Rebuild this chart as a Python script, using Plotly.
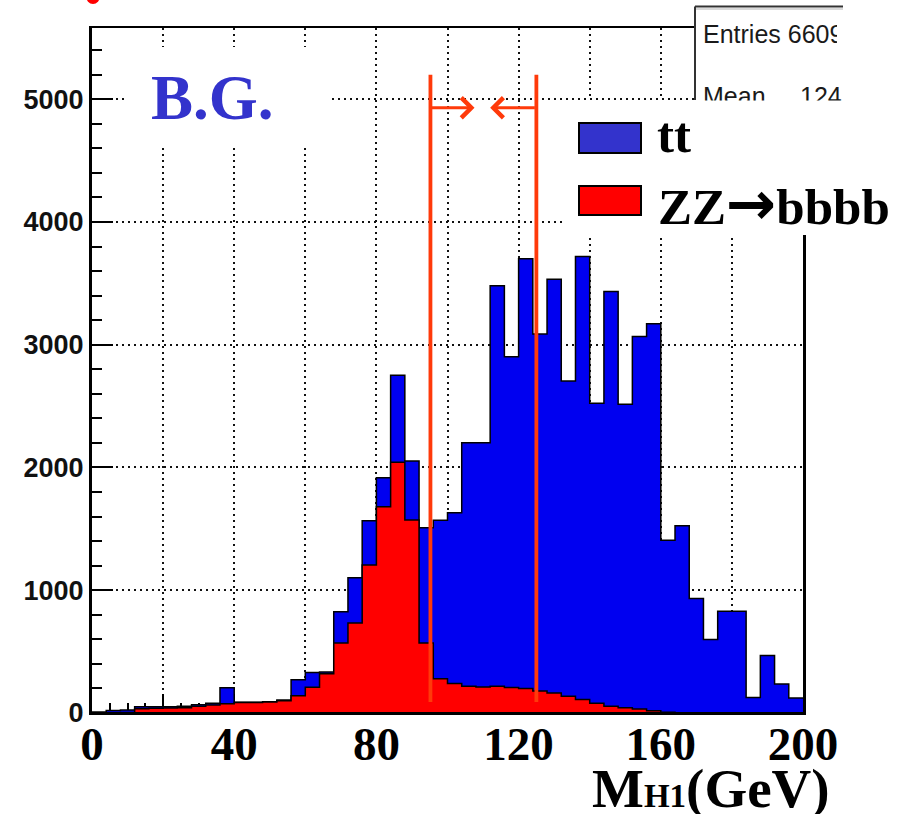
import plotly.graph_objects as go

# ---------------- data ----------------
bin_width = 4
bin_low = list(range(0, 200, bin_width))          # 50 bins, 0..200 GeV

tt = [8, 20, 20, 15, 12, 10, 13, 13, 15, 130,
      2, 2, 2, 5, 130, 120, 15, 253, 367, 361,
      237, 710, 481, 938, 1290, 1391, 1984, 1990, 3262, 2696,
      3500, 2909, 3371, 2569, 3610, 2443, 3378, 2473, 3034, 3151,
      1402, 1522, 933, 598, 829, 829, 127, 468, 237, 123]

zz_bbbb = [0, 0, 5, 35, 38, 40, 42, 55, 65, 75,
           85, 85, 90, 100, 140, 210, 320, 571, 734, 1205,
           1680, 2042, 1572, 571, 280, 240, 218, 212, 218, 207,
           200, 179, 163, 136, 109, 80, 56, 42, 32, 19,
           6, 3, 0, 0, 0, 0, 0, 0, 0, 0]

x_tick_vals = list(range(0, 201, 20))
x_tick_text = [str(v) if v % 40 == 0 else "" for v in x_tick_vals]
y_tick_vals = [0, 1000, 2000, 3000, 4000, 5000]
y_tick_text = ["0", "1000", "2000", "3000", "4000", "5000"]

cut_low, cut_high = 95.2, 125.0
cut_y_bottom, cut_y_top, arrow_y = 90, 5200, 4930
arrow_tip_right, arrow_tip_left = 107.6, 112.0

stats_entries = "6609"
stats_mean = "124"

# ---------------- figure ----------------
W, H = 917, 814
L, R, T, B = 92, 114, 28, 101
PW, PH = W - L - R, H - T - B


def PX(x):
    return (x - L) / PW


def PY(y):
    return (H - B - y) / PH


stack_total = [a + b for a, b in zip(tt, zz_bbbb)]
edges = bin_low + [bin_low[-1] + bin_width]


def step(v):
    return list(v) + [v[-1]]


BLUE = "#0000F0"
RED = "#FF0000"
CUT = "#FF3A0A"

fig = go.Figure()
fig.add_trace(go.Scatter(
    x=edges, y=step(stack_total), mode="lines", name="tt",
    line=dict(shape="hv", color="black", width=1.5),
    fill="tozeroy", fillcolor=BLUE, hoverinfo="skip", showlegend=False))
fig.add_trace(go.Scatter(
    x=edges, y=step(zz_bbbb), mode="lines", name="ZZ→bbbb",
    line=dict(shape="hv", color="black", width=1.5),
    fill="tozeroy", fillcolor=RED, hoverinfo="skip", showlegend=False))

grid = dict(showgrid=True, gridcolor="#111111", gridwidth=1.6, griddash="2px,4px")

fig.update_xaxes(
    range=[0, 200], tickmode="array", tickvals=x_tick_vals, ticktext=x_tick_text,
    ticks="inside", ticklen=19, tickwidth=1.5, tickcolor="black",
    minor=dict(tickmode="linear", tick0=0, dtick=5, ticks="inside", ticklen=10,
               tickwidth=1.5, tickcolor="black", showgrid=False),
    showline=True, linecolor="black", linewidth=2, mirror=True, zeroline=False,
    layer="below traces", ticklabelstandoff=-11,
    tickfont=dict(family="Liberation Serif", size=47, color="black", weight="bold"),
    **grid)
fig.update_yaxes(
    range=[0, 5580], tickmode="array", tickvals=y_tick_vals, ticktext=y_tick_text,
    ticks="inside", ticklen=21, tickwidth=1.8, tickcolor="black",
    minor=dict(tickmode="linear", tick0=0, dtick=200, ticks="inside", ticklen=10,
               tickwidth=1.8, tickcolor="black", showgrid=False),
    showline=True, linecolor="black", linewidth=3, mirror=True, zeroline=False,
    layer="above traces",
    tickfont=dict(family="Liberation Sans", size=27, color="#111111", weight="bold"),
    **grid)

shapes = []
# bottom frame line above the fills
shapes.append(dict(type="line", xref="x", yref="y", x0=0, x1=200, y0=0, y1=0,
                   line=dict(color="black", width=2), layer="above"))
# white patch behind "B.G."
shapes.append(dict(type="rect", xref="paper", yref="paper",
                   x0=PX(127), x1=PX(328), y0=PY(147), y1=PY(47),
                   fillcolor="white", line=dict(width=0), layer="above"))
# stats box
shapes.append(dict(type="rect", xref="paper", yref="paper",
                   x0=PX(695), x1=PX(917), y0=PY(100), y1=PY(5),
                   fillcolor="white", line=dict(width=0), layer="above"))
shapes.append(dict(type="line", xref="paper", yref="paper",
                   x0=PX(695), x1=PX(843), y0=PY(6.5), y1=PY(6.5),
                   line=dict(color="#333333", width=2), layer="above"))
shapes.append(dict(type="line", xref="paper", yref="paper",
                   x0=PX(695), x1=PX(843), y0=PY(9), y1=PY(9),
                   line=dict(color="#cccccc", width=1.5), layer="above"))
shapes.append(dict(type="line", xref="paper", yref="paper",
                   x0=PX(695), x1=PX(695), y0=PY(6.5), y1=PY(100),
                   line=dict(color="#333333", width=2), layer="above"))
# legend box
shapes.append(dict(type="rect", xref="paper", yref="paper",
                   x0=PX(564), x1=PX(917), y0=PY(235), y1=PY(100),
                   fillcolor="white", line=dict(width=0), layer="above"))
shapes.append(dict(type="rect", xref="paper", yref="paper",
                   x0=PX(579), x1=PX(641), y0=PY(153), y1=PY(123),
                   fillcolor="#3333CC", line=dict(color="black", width=2), layer="above"))
shapes.append(dict(type="rect", xref="paper", yref="paper",
                   x0=PX(579), x1=PX(641), y0=PY(215), y1=PY(186),
                   fillcolor=RED, line=dict(color="black", width=2), layer="above"))
# cut lines
for cx in (cut_low, cut_high):
    shapes.append(dict(type="line", xref="x", yref="y", x0=cx, x1=cx,
                       y0=cut_y_bottom, y1=cut_y_top,
                       line=dict(color=CUT, width=3.8), layer="above"))
# clipped red glyph at the very top-left
shapes.append(dict(type="circle", xref="paper", yref="paper",
                   x0=PX(86), x1=PX(100), y0=PY(4), y1=PY(-12),
                   fillcolor=RED, line=dict(width=0), layer="above"))

annotations = [
    dict(xref="x", yref="y", x=arrow_tip_right, y=arrow_y, ax=cut_low, ay=arrow_y,
         axref="x", ayref="y", text="", showarrow=True, arrowhead=4, arrowsize=1.3,
         arrowwidth=3, arrowcolor=CUT, standoff=0, startstandoff=0),
    dict(xref="x", yref="y", x=arrow_tip_left, y=arrow_y, ax=cut_high, ay=arrow_y,
         axref="x", ayref="y", text="", showarrow=True, arrowhead=4, arrowsize=1.3,
         arrowwidth=3, arrowcolor=CUT, standoff=0, startstandoff=0),
    dict(xref="paper", yref="paper", x=PX(149), y=PY(98), xanchor="left", yanchor="middle",
         text="B.G.", showarrow=False,
         font=dict(family="Liberation Serif", size=63, color="#3333CC", weight="bold")),
    dict(xref="paper", yref="paper", x=PX(655), y=PY(135), xanchor="left", yanchor="middle",
         text="tt", showarrow=False,
         font=dict(family="Liberation Serif", size=51, color="black", weight="bold")),
    dict(xref="paper", yref="paper", x=PX(656), y=PY(203), xanchor="left", yanchor="middle",
         text="ZZ<span style=\"font-family:DejaVu Sans;font-weight:bold;font-size:60px\">→</span>bbbb",
         showarrow=False,
         font=dict(family="Liberation Serif", size=51, color="black", weight="bold")),
    dict(xref="paper", yref="paper", x=PX(711), y=PY(789), xanchor="center", yanchor="middle",
         text="M<span style=\"font-size:33px\">H1</span>(GeV)", showarrow=False,
         font=dict(family="Liberation Serif", size=55, color="black", weight="bold")),
    # stats box texts (clipped by fixed width/height)
    dict(xref="paper", yref="paper", x=PX(701), y=PY(18), xanchor="left", yanchor="top",
         text="Entries " + stats_entries, showarrow=False, width=134, align="left",
         font=dict(family="Liberation Sans", size=25, color="#1a1a1a")),
    dict(xref="paper", yref="paper", x=PX(701), y=PY(79.5), xanchor="left", yanchor="top",
         text="Mean", showarrow=False, height=18.5, valign="top", align="left",
         font=dict(family="Liberation Sans", size=25, color="#1a1a1a")),
    dict(xref="paper", yref="paper", x=PX(798), y=PY(79.5), xanchor="left", yanchor="top",
         text=stats_mean, showarrow=False, height=18.5, width=43, valign="top", align="left",
         font=dict(family="Liberation Sans", size=25, color="#1a1a1a")),
]

fig.update_layout(
    width=W, height=H, autosize=False,
    margin=dict(l=L, r=R, t=T, b=B, pad=0),
    paper_bgcolor="white", plot_bgcolor="white",
    shapes=shapes, annotations=annotations, showlegend=False,
)

fig.write_html("out.html")
